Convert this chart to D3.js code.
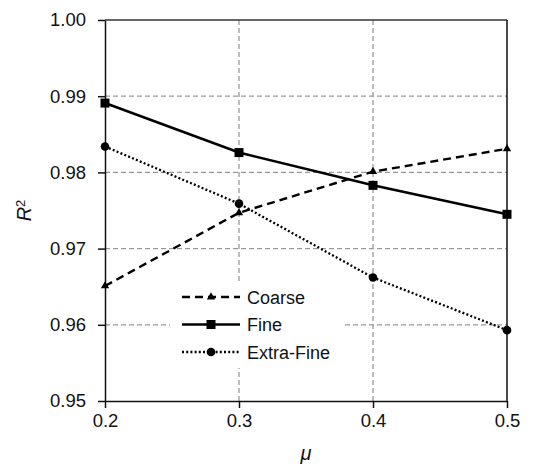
<!DOCTYPE html>
<html>
<head>
<meta charset="utf-8">
<script src="https://cdn.jsdelivr.net/npm/d3@7"></script>
<style>
  body { margin: 0; background: #fff; }
  text { font-family: "Liberation Sans", Arial, sans-serif; fill: #111; }
</style>
</head>
<body>
<svg id="main" width="548" height="468"></svg>
<script>
// values
var mu = [0.2, 0.3, 0.4, 0.5];
var coarse = [0.9651, 0.9747, 0.9801, 0.9831];
var fine = [0.9891, 0.9826, 0.9783, 0.9745];
var extraFine = [0.9834, 0.9759, 0.9662, 0.9593];
var xTicks = [0.2, 0.3, 0.4, 0.5];
var yTicks = [0.95, 0.96, 0.97, 0.98, 0.99, 1.00];

var series = [
  {name: "Coarse", values: coarse, dash: "8,5", width: 2.4, marker: "triangle"},
  {name: "Fine", values: fine, dash: null, width: 2.6, marker: "square"},
  {name: "Extra-Fine", values: extraFine, dash: "2,2.2", width: 2.3, marker: "circle"}
];

var svg = d3.select("#main");
var margin = {left: 105, right: 41, top: 20, bottom: 67};
var W = 548, H = 468;

var x = d3.scaleLinear().domain([0.2, 0.5]).range([margin.left, W - margin.right]);
var y = d3.scaleLinear().domain([0.95, 1.00]).range([H - margin.bottom, margin.top]);

// gridlines
var grid = svg.append("g");
grid.selectAll(".hg").data(yTicks.filter(function(d) { return d > 0.951 && d < 0.999; }))
  .enter().append("line")
  .attr("x1", x(0.2)).attr("x2", x(0.5))
  .attr("y1", function(d) { return y(d); }).attr("y2", function(d) { return y(d); })
  .style("stroke", "#9a9a9a").style("stroke-width", 1.3).style("stroke-dasharray", "5,3");
grid.selectAll(".vg").data(xTicks.filter(function(d) { return d > 0.21 && d < 0.49; }))
  .enter().append("line")
  .attr("y1", y(0.95)).attr("y2", y(1.0))
  .attr("x1", function(d) { return x(d); }).attr("x2", function(d) { return x(d); })
  .style("stroke", "#9a9a9a").style("stroke-width", 1.3).style("stroke-dasharray", "5,3");

// frame: top and right borders
svg.append("line").attr("x1", x(0.2)).attr("x2", x(0.5)).attr("y1", y(1.0)).attr("y2", y(1.0))
  .style("stroke", "#333").style("stroke-width", 1.5);
svg.append("line").attr("x1", x(0.5)).attr("x2", x(0.5)).attr("y1", y(1.0)).attr("y2", y(0.95))
  .style("stroke", "#111").style("stroke-width", 1.5);

// axes
var xAxis = d3.axisBottom(x).tickValues(xTicks).tickFormat(d3.format(".1f")).tickSize(7).tickSizeOuter(0);
var yAxis = d3.axisLeft(y).tickValues(yTicks).tickFormat(d3.format(".2f")).tickSize(7).tickSizeOuter(0);

var gx = svg.append("g").attr("transform", "translate(0," + y(0.95) + ")").call(xAxis);
var gy = svg.append("g").attr("transform", "translate(" + x(0.2) + ",0)").call(yAxis);
[gx, gy].forEach(function(g) {
  g.selectAll("path, line").style("stroke", "#111").style("stroke-width", 1.5);
  g.selectAll("text").style("font-size", "18.5px").style("font-family", "Liberation Sans, Arial, sans-serif").style("fill", "#111");
});
gx.selectAll("text").attr("dy", "0.85em").attr("y", 10);
gy.selectAll("text").attr("x", -19);

// axis titles
svg.append("text").attr("x", (x(0.2) + x(0.5)) / 2).attr("y", 460)
  .attr("text-anchor", "middle").style("font-size", "20px").style("font-style", "italic").text("μ");
var yt = svg.append("text").attr("transform", "translate(31," + y(0.975) + ") rotate(-90)")
  .attr("text-anchor", "middle").style("font-size", "20px");
yt.append("tspan").style("font-style", "italic").text("R");
yt.append("tspan").attr("dy", "-0.45em").style("font-size", "13px").text("2");

// lines
var line = d3.line().x(function(d, i) { return x(mu[i]); }).y(function(d) { return y(d); });

function drawMarker(g, type, cx, cy) {
  if (type === "triangle") {
    g.append("path").attr("d", d3.symbol().type(d3.symbolTriangle).size(30)())
      .attr("transform", "translate(" + cx + "," + cy + ")").style("fill", "#000");
  } else if (type === "square") {
    g.append("rect").attr("x", cx - 4.5).attr("y", cy - 4.5).attr("width", 9).attr("height", 9).style("fill", "#000");
  } else {
    g.append("circle").attr("cx", cx).attr("cy", cy).attr("r", 4.3).style("fill", "#000");
  }
}

series.forEach(function(s) {
  var g = svg.append("g");
  g.append("path").datum(s.values).attr("d", line)
    .style("fill", "none").style("stroke", "#000").style("stroke-width", s.width)
    .style("stroke-dasharray", s.dash).style("stroke-linecap", "butt");
  s.values.forEach(function(v, i) { drawMarker(g, s.marker, x(mu[i]), y(v)); });
});

// legend
var lg = svg.append("g");
lg.append("rect").attr("x", 170).attr("y", 282).attr("width", 172).attr("height", 86).style("fill", "#fff");
series.forEach(function(s, i) {
  var ly = 297 + i * 27.5;
  lg.append("line").attr("x1", 182).attr("x2", 240).attr("y1", ly).attr("y2", ly)
    .style("stroke", "#000").style("stroke-width", s.width).style("stroke-dasharray", s.dash);
  drawMarker(lg, s.marker, 211, ly);
  lg.append("text").attr("x", 247).attr("y", ly + 6.5).style("font-size", "18px").text(s.name);
});
</script>
</body>
</html>
